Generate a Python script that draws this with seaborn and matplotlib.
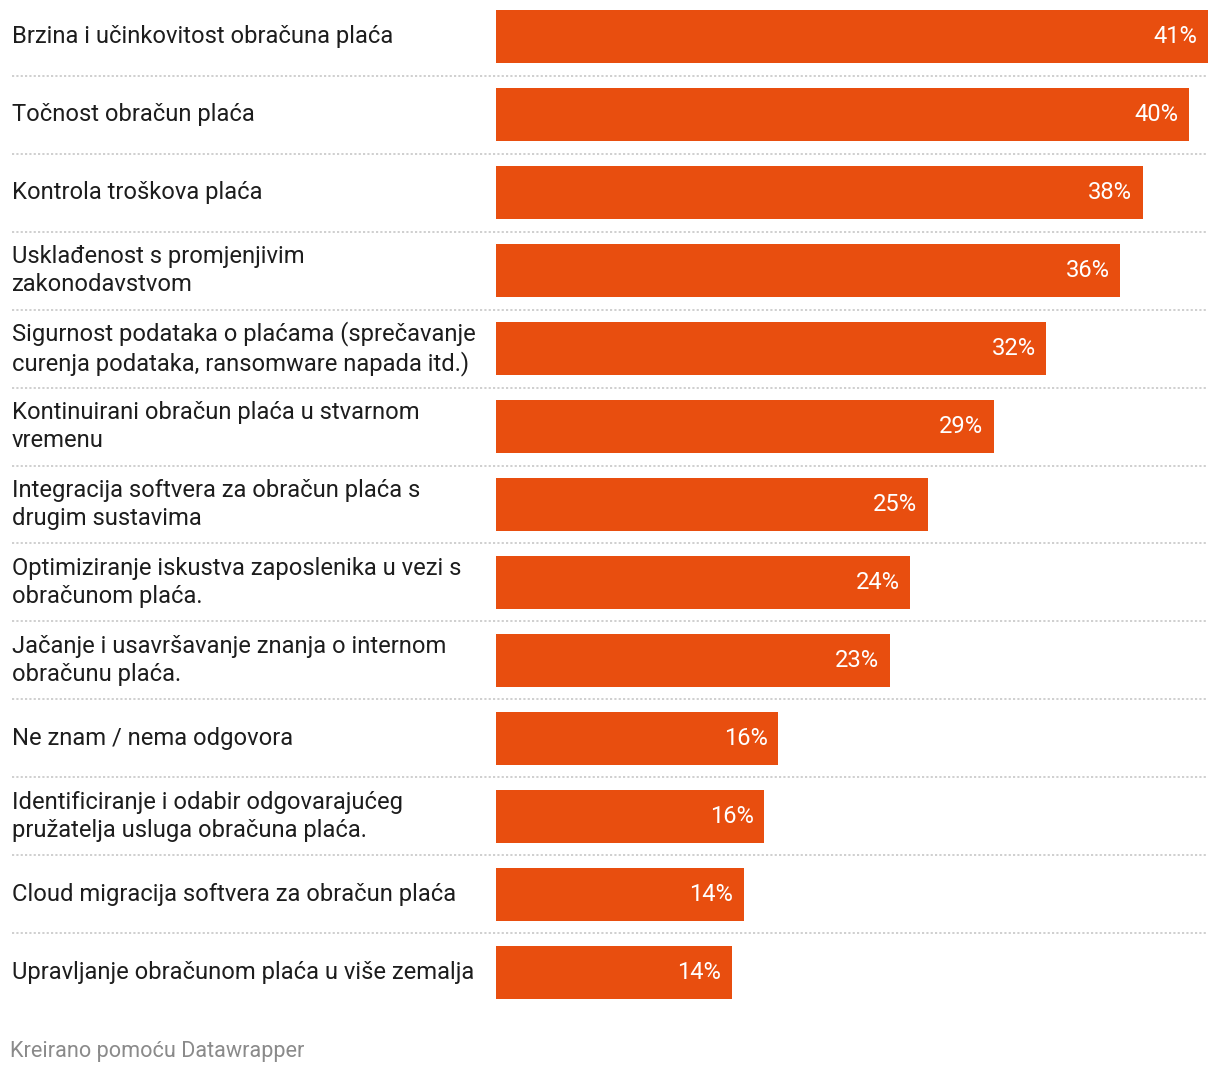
import matplotlib
matplotlib.use("Agg")
import matplotlib.pyplot as plt
import matplotlib.transforms as mtransforms
import seaborn as sns
import pandas as pd

categories = [
    "Brzina i učinkovitost obračuna plaća",
    "Točnost obračun plaća",
    "Kontrola troškova plaća",
    "Usklađenost s promjenjivim\nzakonodavstvom",
    "Sigurnost podataka o plaćama (sprečavanje\ncurenja podataka, ransomware napada itd.)",
    "Kontinuirani obračun plaća u stvarnom\nvremenu",
    "Integracija softvera za obračun plaća s\ndrugim sustavima",
    "Optimiziranje iskustva zaposlenika u vezi s\nobračunom plaća.",
    "Jačanje i usavršavanje znanja o internom\nobračunu plaća.",
    "Ne znam / nema odgovora",
    "Identificiranje i odabir odgovarajućeg\npružatelja usluga obračuna plaća.",
    "Cloud migracija softvera za obračun plaća",
    "Upravljanje obračunom plaća u više zemalja",
]
values = [41.4, 40.3, 37.6, 36.3, 32.0, 28.95, 25.1, 24.1, 22.9, 16.4, 15.6, 14.4, 13.7]
value_labels = ["41%", "40%", "38%", "36%", "32%", "29%", "25%", "24%", "23%", "16%", "16%", "14%", "14%"]

BAR_COLOR = "#E84E0F"
TEXT_COLOR = "#1d1d1d"

sns.set_theme(style="white")
plt.rcParams["font.family"] = ["Roboto", "DejaVu Sans"]

W, H = 1220, 1078
fig = plt.figure(figsize=(W / 100, H / 100), dpi=100)
fig.patch.set_facecolor("white")

bar_w = 0.68
n = len(categories)
x0, x1 = 496, 1208
y_top, y_bot = 10, 999
ax = fig.add_axes([x0 / W, 1 - y_bot / H, (x1 - x0) / W, (y_bot - y_top) / H])

df = pd.DataFrame({"cat": categories, "val": values})
sns.barplot(data=df, x="val", y="cat", orient="h", color=BAR_COLOR,
            saturation=1, width=bar_w, ax=ax, edgecolor="none")

ax.set_xlim(0, max(values))
ax.set_ylim(n - 1 + bar_w / 2, -bar_w / 2)
ax.axis("off")

trans = mtransforms.blended_transform_factory(fig.transFigure, ax.transData)
for i, cat in enumerate(categories):
    ax.text(12 / W, i, cat, transform=trans, ha="left", va="center",
            fontsize=17.1, color=TEXT_COLOR, linespacing=1.27)

for i, (v, lbl) in enumerate(zip(values, value_labels)):
    ax.annotate(lbl, xy=(v, i), xytext=(-7.5, 0), textcoords="offset points",
                ha="right", va="center", color="white", fontsize=17.1)

for i in range(n - 1):
    ax.plot([12 / W, 1208 / W], [i + 0.5, i + 0.5], transform=trans,
            color="#cccccc", lw=1.3, ls=(0, (1.2, 1.2)), clip_on=False)

fig.text(10 / W, 1 - 1052 / H, "Kreirano pomoću Datawrapper", ha="left", va="center",
         fontsize=15.6, color="#8a8a8a")

fig.savefig("out.png", dpi=100, facecolor="white")
